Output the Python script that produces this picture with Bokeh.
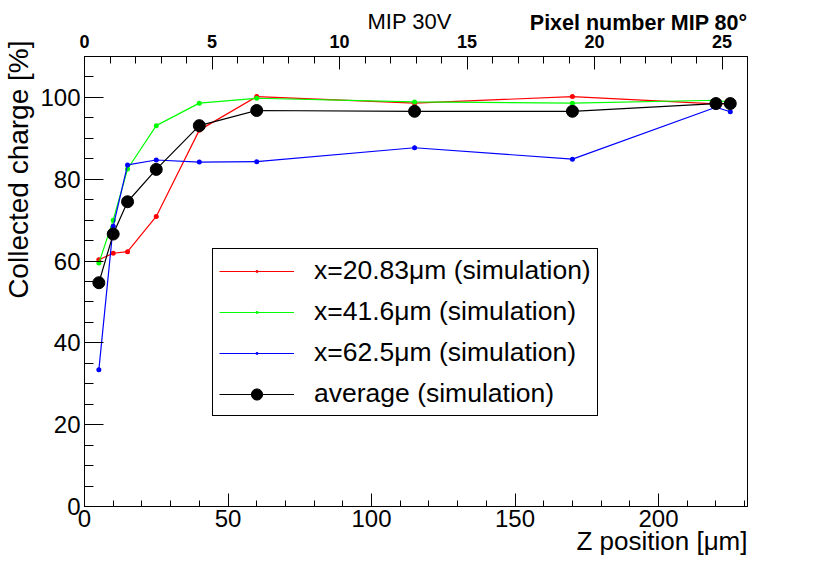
from bokeh.plotting import figure
from bokeh.models import Range1d, LinearAxis, SingleIntervalTicker, Title
from bokeh.embed import file_html
from bokeh.resources import INLINE

# ---- data ----
z_position = [5, 10, 15, 25, 40, 60, 115, 170, 220, 225]
charge_x20 = [60.3, 61.9, 62.3, 70.9, 92.0, 100.2, 98.6, 100.2, 98.4, 98.5]
charge_x41 = [59.5, 70.0, 82.5, 93.1, 98.6, 99.8, 98.9, 98.6, 99.3, 98.8]
charge_x62 = [33.4, 68.5, 83.5, 84.7, 84.2, 84.3, 87.7, 84.9, 97.6, 96.5]
charge_avg = [54.7, 66.6, 74.5, 82.4, 93.1, 96.8, 96.6, 96.6, 98.5, 98.5]
labels = ["x=20.83\u03bcm (simulation)", "x=41.6\u03bcm (simulation)",
          "x=62.5\u03bcm (simulation)", "average (simulation)"]

FONT = "Liberation Sans"

p = figure(width=830, height=563,
           x_range=Range1d(0, 231), y_range=Range1d(0, 110),
           output_backend="svg", toolbar_location=None,
           min_border_left=84, min_border_right=83,
           min_border_top=56, min_border_bottom=57,
           background_fill_color="white", border_fill_color="white")
p.extra_x_ranges = {"pix": Range1d(0, 26)}
p.xgrid.visible = False
p.ygrid.visible = False
p.outline_line_color = "black"
p.outline_line_width = 1
p.outline_line_alpha = 1

xa = p.below[0]
ya = p.left[0]
xa.ticker = SingleIntervalTicker(interval=50, num_minor_ticks=5)
ya.ticker = SingleIntervalTicker(interval=20, num_minor_ticks=4)

top = LinearAxis(x_range_name="pix",
                 ticker=SingleIntervalTicker(interval=5, num_minor_ticks=5))
p.add_layout(top, "above")

for ax in [xa, ya, top]:
    ax.axis_line_color = "black"
    ax.axis_line_width = 1
    ax.major_tick_line_color = "black"
    ax.minor_tick_line_color = "black"
    ax.major_tick_out = 0
    ax.minor_tick_out = 0
    ax.major_label_text_font = FONT
    ax.major_label_text_color = "black"

xa.major_tick_in = 13
xa.minor_tick_in = 6
xa.major_label_text_font_size = "24px"
xa.major_label_standoff = 3

ya.major_tick_in = 19
ya.minor_tick_in = 9
ya.major_label_text_font_size = "24px"
ya.major_label_standoff = 4

top.major_tick_in = 13
top.minor_tick_in = 7
top.major_label_text_font_size = "18px"
top.major_label_text_font_style = "bold"
top.major_label_standoff = 9

series = [(charge_x20, "#ff0000", labels[0]),
          (charge_x41, "#00ff00", labels[1]),
          (charge_x62, "#0000ff", labels[2])]
for vals, col, lab in series:
    p.line(z_position, vals, line_color=col, line_width=1.2, legend_label=lab)
    p.scatter(z_position, vals, marker="dot", size=20, fill_color=col,
              line_color=col, legend_label=lab)
p.line(z_position, charge_avg, line_color="black", line_width=1.2,
       legend_label=labels[3])
p.scatter(z_position, charge_avg, size=12, fill_color="black",
          line_color="black", legend_label=labels[3])

lg = p.legend[0]
lg.location = (128, 90)
lg.border_line_color = "black"
lg.border_line_width = 1
lg.border_line_alpha = 1
lg.background_fill_color = "white"
lg.background_fill_alpha = 1
lg.label_text_font = FONT
lg.label_text_font_size = "26.5px"
lg.label_text_color = "black"
lg.label_height = 28
lg.glyph_height = 28
lg.glyph_width = 75
lg.label_standoff = 20
lg.spacing = 10
lg.padding = 6
lg.margin = 0

# axis titles (right-aligned, ROOT style)
t_top_r = Title(text="Pixel number MIP 80\u00b0", align="right", offset=0,
                text_font=FONT, text_font_size="21.5px",
                text_font_style="bold", text_color="black",
                vertical_align="bottom", standoff=-6)
p.add_layout(t_top_r, "above")
t_top_c = Title(text="MIP 30V", align="left", offset=283, text_font=FONT,
                text_font_size="22px", text_font_style="normal",
                text_color="black", vertical_align="bottom", standoff=-44)
p.add_layout(t_top_c, "above")

t_bottom = Title(text="Z position [\u03bcm]", align="right", offset=0,
                 text_font=FONT, text_font_size="26px",
                 text_font_style="normal", text_color="black",
                 vertical_align="bottom", standoff=-12)
p.add_layout(t_bottom, "below")

t_left = Title(text="Collected charge [%]", align="right", offset=-16,
               text_font=FONT, text_font_size="28px",
               text_font_style="normal", text_color="black",
               vertical_align="top", standoff=4)
p.add_layout(t_left, "left")

open("out.html", "w").write(file_html(p, INLINE))
